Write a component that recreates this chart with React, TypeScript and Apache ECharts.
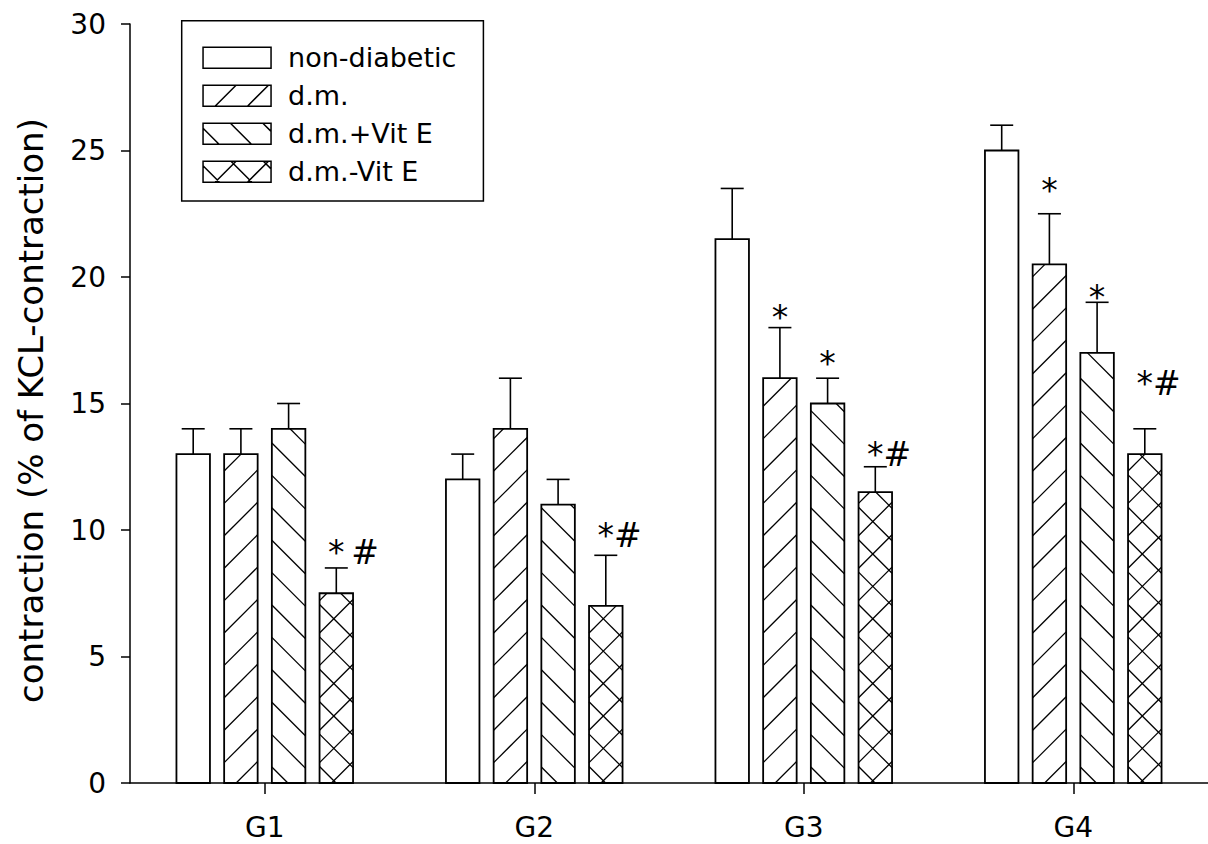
import React, { useEffect, useRef } from "react";
import * as echarts from "echarts";

// ---------------- data ----------------
const categories = ["G1", "G2", "G3", "G4"];
const seriesNames = ["non-diabetic", "d.m.", "d.m.+Vit E", "d.m.-Vit E"];

const nonDiabetic = [13, 12, 21.5, 25];
const nonDiabeticErr = [1, 1, 2, 1];
const dm = [13, 14, 16, 20.5];
const dmErr = [1, 2, 2, 2];
const dmVitEPlus = [14, 11, 15, 17];
const dmVitEPlusErr = [1, 1, 1, 2];
const dmVitEMinus = [7.5, 7, 11.5, 13];
const dmVitEMinusErr = [1, 2, 1, 1];

// significance marks (per series, per category) and the value level they sit at
const sigNonDiabetic = ["", "", "", ""];
const sigDm = ["", "", "*", "*"];
const sigDmVitEPlus = ["", "", "*", "*"];
const sigDmVitEMinus = ["*\u2009#", "*#", "*#", "*#"];
const sigLevelNonDiabetic = [0, 0, 0, 0];
const sigLevelDm = [0, 0, 18.4, 23.4];
const sigLevelDmVitEPlus = [0, 0, 16.6, 19.2];
const sigLevelDmVitEMinus = [9.1, 9.8, 13.0, 15.8];

const yMin = 0;
const yMax = 30;
const yInterval = 5;
const yTitle = "contraction (% of KCL-contraction)";

const values = [nonDiabetic, dm, dmVitEPlus, dmVitEMinus];
const errors = [nonDiabeticErr, dmErr, dmVitEPlusErr, dmVitEMinusErr];
const sigs = [sigNonDiabetic, sigDm, sigDmVitEPlus, sigDmVitEMinus];
const sigLevels = [sigLevelNonDiabetic, sigLevelDm, sigLevelDmVitEPlus, sigLevelDmVitEMinus];
const hatchKinds = ["none", "fwd", "back", "cross"];

// ---------------- styling ----------------
const FONT = '"DejaVu Sans", "Liberation Sans", Arial, sans-serif';
const BAR_W = 33.5;
const BAR_PITCH = 47.7;
const HATCH_GAP = 32.4;
const CAP_W = 23;

function hatchLines(x0: number, x1: number, yT: number, yB: number, kind: string) {
  const out: number[][] = [];
  const S = HATCH_GAP;
  const ph = 12;
  if (kind === "fwd" || kind === "cross") {
    const ref = x0 + ph + yB;
    const cMin = x0 + yT;
    const cMax = x1 + yB;
    const k = Math.ceil((cMin - ref) / S);
    for (let c = ref + k * S; c <= cMax; c += S) {
      const xa = Math.max(x0, c - yB);
      const xb = Math.min(x1, c - yT);
      if (xb - xa > 0.6) out.push([xa, c - xa, xb, c - xb]);
    }
  }
  if (kind === "back" || kind === "cross") {
    const ref = yB - (x0 + ph + (kind === "cross" ? 4.5 : 4));
    const cMin = yT - x1;
    const cMax = yB - x0;
    const k = Math.ceil((cMin - ref) / S);
    for (let c = ref + k * S; c <= cMax; c += S) {
      const xa = Math.max(x0, yT - c);
      const xb = Math.min(x1, yB - c);
      if (xb - xa > 0.6) out.push([xa, xa + c, xb, xb + c]);
    }
  }
  return out;
}

function legendIconPath(kind: string) {
  const W = 68;
  const H = 21;
  let d = `M0,0L${W},0L${W},${H}L0,${H}Z`;
  const segs = hatchLines(0, W, 0, H, kind === "none" ? "none" : kind);
  segs.forEach((s) => {
    d += ` M${s[0].toFixed(2)},${s[1].toFixed(2)}L${s[2].toFixed(2)},${s[3].toFixed(2)}`;
  });
  return "path://" + d;
}

function makeRenderItem(si: number) {
  return (params: any, api: any) => {
    const cat = api.value(0);
    const v = api.value(1);
    const e = api.value(2);
    const base = api.coord([cat, 0]);
    const top = api.coord([cat, v]);
    const cap = api.coord([cat, v + e]);
    const cx = base[0] + (si - 1.5) * BAR_PITCH;
    const x0 = cx - BAR_W / 2;
    const x1 = cx + BAR_W / 2;
    const yB = base[1];
    const yT = top[1];
    const children: any[] = [];
    children.push({
      type: "rect",
      shape: { x: x0, y: yT, width: BAR_W, height: yB - yT },
      style: { fill: "#fff", stroke: "none" },
    });
    hatchLines(x0, x1, yT, yB, hatchKinds[si]).forEach((s) => {
      children.push({
        type: "line",
        shape: { x1: s[0], y1: s[1], x2: s[2], y2: s[3] },
        style: { stroke: "#000", lineWidth: 1.3 },
      });
    });
    children.push({
      type: "rect",
      shape: { x: x0, y: yT, width: BAR_W, height: yB - yT },
      style: { fill: "none", stroke: "#000", lineWidth: 1.8 },
    });
    children.push({
      type: "line",
      shape: { x1: cx, y1: yT, x2: cx, y2: cap[1] },
      style: { stroke: "#000", lineWidth: 1.6 },
    });
    children.push({
      type: "line",
      shape: { x1: cx - CAP_W / 2, y1: cap[1], x2: cx + CAP_W / 2, y2: cap[1] },
      style: { stroke: "#000", lineWidth: 1.6 },
    });
    const label = sigs[si][params.dataIndex];
    if (label) {
      const ly = api.coord([cat, sigLevels[si][params.dataIndex]])[1];
      const fs = 33;
      const single = label === "*";
      children.push({
        type: "text",
        x: single ? cx : cx - fs * 0.25,
        y: ly,
        style: {
          text: label,
          fill: "#000",
          fontSize: fs,
          fontFamily: FONT,
          align: single ? "center" : "left",
          verticalAlign: "middle",
        },
      });
    }
    return { type: "group", children };
  };
}

export default function App() {
  const ref = useRef<HTMLDivElement>(null);
  useEffect(() => {
    if (!ref.current) return;
    const chart = echarts.init(ref.current, undefined, { renderer: "svg" });
    const series = seriesNames.map((name, si) => ({
      name,
      type: "custom",
      renderItem: makeRenderItem(si),
      itemStyle: { color: "#fff", borderColor: "#000" },
      encode: { x: 0, y: 1 },
      data: categories.map((_, ci) => [ci, values[si][ci], errors[si][ci]]),
      z: 2,
    }));
    chart.setOption({
      animation: false,
      backgroundColor: "#fff",
      textStyle: { fontFamily: FONT },
      grid: { left: 130, top: 24, width: 1083.3, height: 759, containLabel: false },
      legend: {
        orient: "vertical",
        left: 181.7,
        top: 20.7,
        padding: [23.5, 27, 15.7, 20.6],
        itemWidth: 68,
        itemHeight: 21,
        itemGap: 11,
        borderColor: "#000",
        borderWidth: 1.5,
        selectedMode: false,
        textStyle: { fontSize: 27, fontFamily: FONT, color: "#000", padding: [0, 0, 0, 12] },
        itemStyle: { color: "#fff", borderColor: "#000", borderWidth: 1.5 },
        data: seriesNames.map((n, i) => ({ name: n, icon: legendIconPath(hatchKinds[i]) })),
      },
      xAxis: {
        type: "category",
        data: categories,
        axisLine: { show: true, lineStyle: { color: "#000", width: 1.5 } },
        axisTick: { show: true, alignWithLabel: true, length: 11, lineStyle: { color: "#000", width: 1.5 } },
        axisLabel: { color: "#000", fontSize: 28, fontFamily: FONT, margin: 30 },
        splitLine: { show: false },
      },
      yAxis: {
        type: "value",
        min: yMin,
        max: yMax,
        interval: yInterval,
        axisLine: { show: true, lineStyle: { color: "#000", width: 1.5 } },
        axisTick: { show: true, length: 9, lineStyle: { color: "#000", width: 1.5 } },
        axisLabel: { color: "#000", fontSize: 28, fontFamily: FONT, margin: 24 },
        splitLine: { show: false },
        name: yTitle,
        nameLocation: "middle",
        nameGap: 82,
        nameTextStyle: { color: "#000", fontSize: 34, fontFamily: FONT, padding: [0, 14, 0, 0] },
      },
      series,
    });
    return () => chart.dispose();
  }, []);
  return (
    <div
      ref={ref}
      style={{ position: "absolute", left: 0, top: 0, width: 1208, height: 844, background: "#fff" }}
    />
  );
}
